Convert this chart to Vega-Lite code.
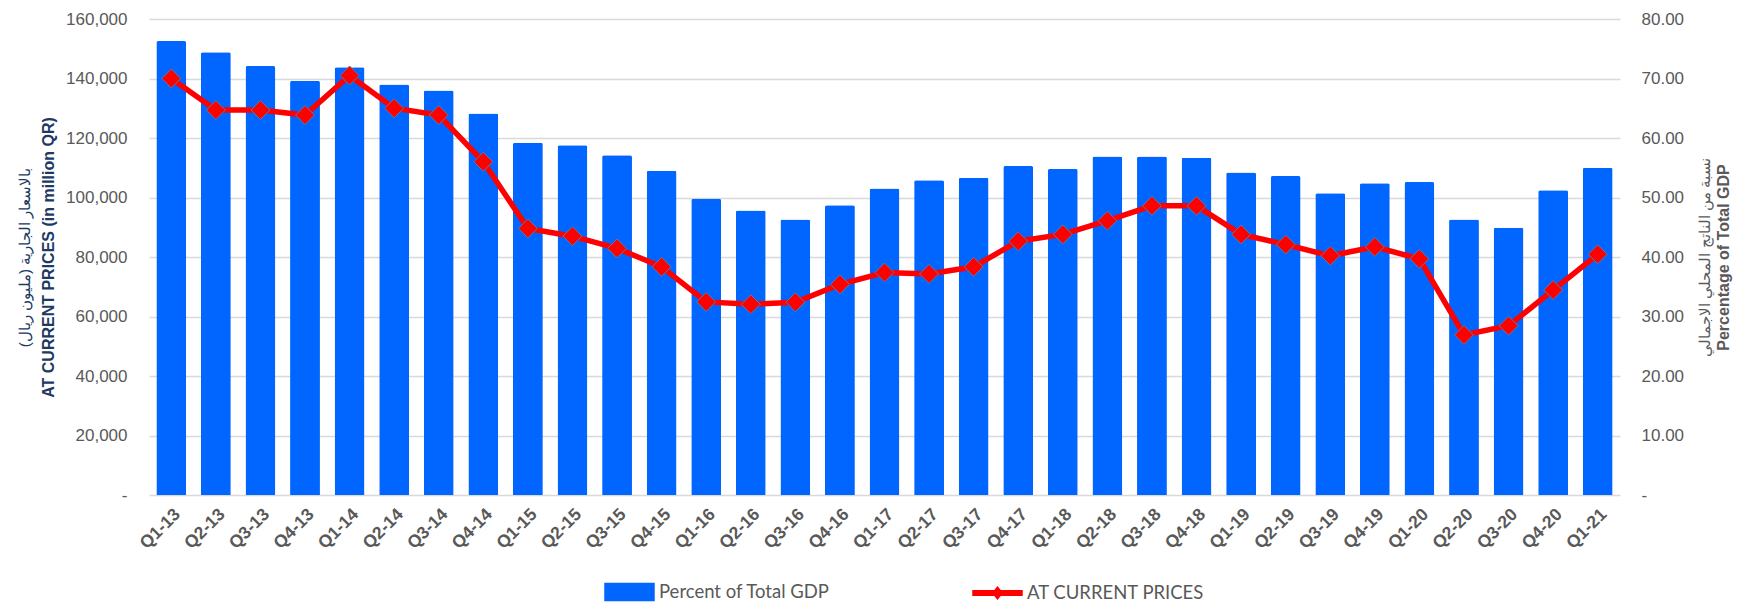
{
  "$schema": "https://vega.github.io/schema/vega-lite/v6.json",
  "width": 1471,
  "height": 476,
  "autosize": {"type": "none"},
  "padding": {"left": 149, "top": 19, "right": 125, "bottom": 110},
  "background": "white",
  "config": {
    "view": {"stroke": null},
    "font": "Liberation Sans",
    "axis": {"labelFont": "Liberation Sans", "titleFont": "Liberation Sans"}
  },
  "data": {
    "values": [
      {"q": "Q1-13", "pct": 76.3, "price": 140000},
      {"q": "Q2-13", "pct": 74.4, "price": 129400},
      {"q": "Q3-13", "pct": 72.1, "price": 129400},
      {"q": "Q4-13", "pct": 69.6, "price": 127700},
      {"q": "Q1-14", "pct": 71.9, "price": 141000},
      {"q": "Q2-14", "pct": 69.0, "price": 130000},
      {"q": "Q3-14", "pct": 68.0, "price": 127700},
      {"q": "Q4-14", "pct": 64.1, "price": 112000},
      {"q": "Q1-15", "pct": 59.2, "price": 89600},
      {"q": "Q2-15", "pct": 58.8, "price": 87000},
      {"q": "Q3-15", "pct": 57.1, "price": 82900},
      {"q": "Q4-15", "pct": 54.5, "price": 76700},
      {"q": "Q1-16", "pct": 49.8, "price": 64900},
      {"q": "Q2-16", "pct": 47.8, "price": 64100},
      {"q": "Q3-16", "pct": 46.3, "price": 64800},
      {"q": "Q4-16", "pct": 48.7, "price": 70800},
      {"q": "Q1-17", "pct": 51.5, "price": 74800},
      {"q": "Q2-17", "pct": 52.9, "price": 74300},
      {"q": "Q3-17", "pct": 53.3, "price": 76700},
      {"q": "Q4-17", "pct": 55.3, "price": 85300},
      {"q": "Q1-18", "pct": 54.8, "price": 87600},
      {"q": "Q2-18", "pct": 56.9, "price": 92200},
      {"q": "Q3-18", "pct": 56.9, "price": 97200},
      {"q": "Q4-18", "pct": 56.7, "price": 97200},
      {"q": "Q1-19", "pct": 54.2, "price": 87600},
      {"q": "Q2-19", "pct": 53.6, "price": 84200},
      {"q": "Q3-19", "pct": 50.7, "price": 80400},
      {"q": "Q4-19", "pct": 52.4, "price": 83400},
      {"q": "Q1-20", "pct": 52.6, "price": 79400},
      {"q": "Q2-20", "pct": 46.3, "price": 53800},
      {"q": "Q3-20", "pct": 44.9, "price": 56900},
      {"q": "Q4-20", "pct": 51.2, "price": 68900},
      {"q": "Q1-21", "pct": 55.0, "price": 80900}
    ]
  },
  "encoding": {
    "x": {
      "field": "q",
      "type": "nominal",
      "sort": null,
      "title": null,
      "scale": {"paddingInner": 0.33, "paddingOuter": 0.165},
      "axis": {
        "labelAngle": -45,
        "labelFontSize": 17.5,
        "labelFontWeight": "bold",
        "labelColor": "#595959",
        "labelPadding": 10,
        "domain": false,
        "ticks": false,
        "grid": false
      }
    }
  },
  "layer": [
    {
      "mark": {"type": "bar", "color": "#0066FF", "cornerRadiusTopLeft": 2, "cornerRadiusTopRight": 2},
      "encoding": {
        "y": {
          "field": "pct",
          "type": "quantitative",
          "scale": {"domain": [0, 80], "nice": false},
          "axis": {
            "orient": "right",
            "values": [0, 10, 20, 30, 40, 50, 60, 70, 80],
            "labelExpr": "datum.value === 0 ? '-' : format(datum.value, '.2f')",
            "labelFontSize": 17,
            "labelColor": "#595959",
            "labelPadding": 21,
            "domain": false,
            "ticks": false,
            "grid": false,
            "title": "Percentage of Total GDP",
            "titleAngle": -90,
            "titleBaseline": "top",
            "titleFontSize": 16,
            "titleFontWeight": "bold",
            "titleColor": "#595959",
            "titlePadding": 32
          }
        },
        "color": {
          "datum": "Percent of Total GDP",
          "scale": {"domain": ["Percent of Total GDP", "AT CURRENT PRICES"], "range": ["#0066FF", "#FF0000"]},
          "legend": {
            "title": null,
            "orient": "none",
            "direction": "horizontal",
            "legendX": 455,
            "legendY": 547,
            "padding": 0,
            "symbolSize": 2401,
            "labelFont": "Lato",
            "labelFontSize": 18.5,
            "labelColor": "#595959",
            "labelOffset": 4,
            "labelLimit": 400,
            "columnPadding": 140,
            "encode": {
              "symbols": {
                "update": {
                  "shape": {"signal": "datum.value === 'AT CURRENT PRICES' ? 'M-1,-0.09H1V0.09H-1Z M-0.19,0L0,-0.24L0.19,0L0,0.24Z' : 'M-1,-0.35H1V0.35H-1Z'"},
                  "fill": {"signal": "datum.value === 'AT CURRENT PRICES' ? '#FF0000' : '#0066FF'"},
                  "stroke": {"value": "transparent"},
                  "opacity": {"value": 1},
                  "fillOpacity": {"value": 1}
                }
              }
            }
          }
        }
      }
    },
    {
      "mark": {"type": "point", "opacity": 0},
      "encoding": {
        "y": {
          "field": "pct",
          "type": "quantitative",
          "scale": {"domain": [0, 80], "nice": false},
          "axis": {
            "orient": "right",
            "labels": false,
            "domain": false,
            "ticks": false,
            "grid": false,
            "title": "نسبة من الناتج المحلي الاجمالي",
            "titleAngle": -90,
            "titleBaseline": "top",
            "titleFontSize": 15,
            "titleFontWeight": "normal",
            "titleColor": "#595959",
            "titlePadding": 77
          }
        }
      }
    },
    {
      "layer": [
        {
          "mark": {"type": "line", "strokeWidth": 5.5},
          "encoding": {
            "color": {"datum": "AT CURRENT PRICES"}
          }
        },
        {
          "mark": {"type": "point", "shape": "diamond", "size": 361, "filled": true, "fill": "#FF0000", "stroke": "#5A7AAA", "strokeWidth": 1, "opacity": 1}
        }
      ],
      "encoding": {
        "y": {
          "field": "price",
          "type": "quantitative",
          "scale": {"domain": [0, 160000], "nice": false},
          "axis": {
            "orient": "left",
            "values": [0, 20000, 40000, 60000, 80000, 100000, 120000, 140000, 160000],
            "labelExpr": "datum.value === 0 ? '-\u00a0\u00a0' : format(datum.value, ',')",
            "labelFontSize": 17,
            "labelColor": "#595959",
            "labelPadding": 22,
            "domain": false,
            "ticks": false,
            "grid": true,
            "gridColor": "#D9D9D9",
            "gridWidth": 1.3,
            "title": "AT CURRENT PRICES (in million QR)",
            "titleFontSize": 16,
            "titleFontWeight": "bold",
            "titleColor": "#203864",
            "titlePadding": 9
          }
        }
      }
    },
    {
      "mark": {"type": "point", "opacity": 0},
      "encoding": {
        "y": {
          "field": "price",
          "type": "quantitative",
          "scale": {"domain": [0, 160000], "nice": false},
          "axis": {
            "orient": "left",
            "labels": false,
            "domain": false,
            "ticks": false,
            "grid": false,
            "title": "بالاسعار الجارية (مليون ريال)",
            "titleFontSize": 15,
            "titleFontWeight": "normal",
            "titleColor": "#203864",
            "titlePadding": 117
          }
        }
      }
    }
  ],
  "resolve": {"scale": {"y": "independent"}}
}
